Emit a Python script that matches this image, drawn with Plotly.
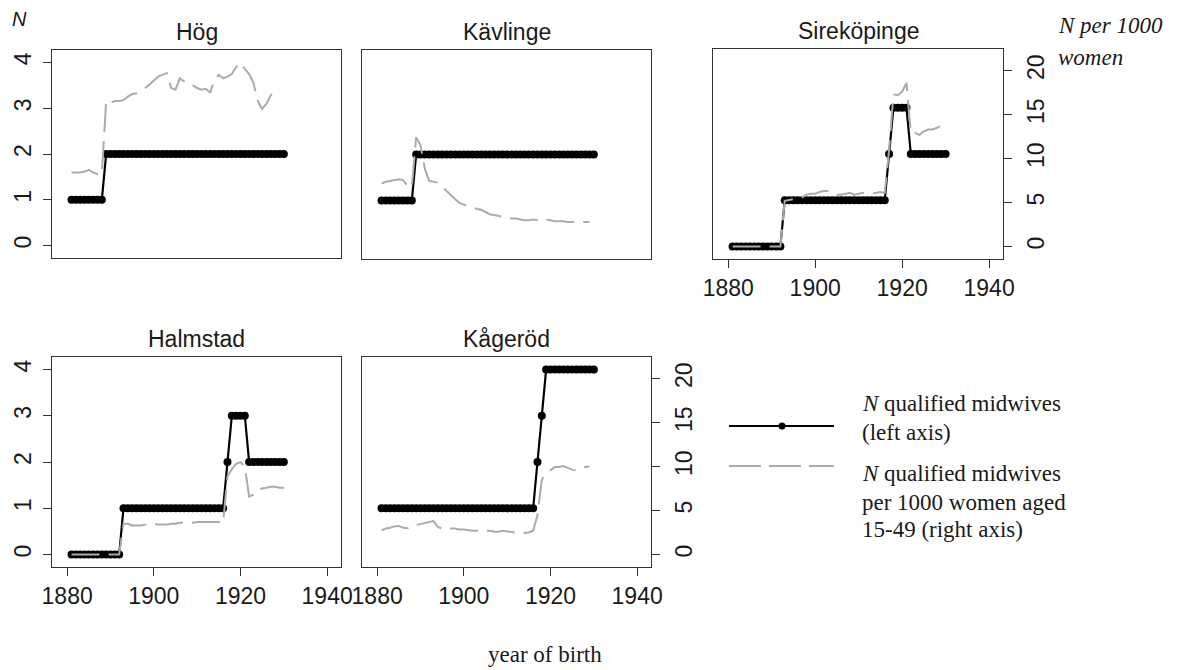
import plotly.graph_objects as go

# ---------------- data ----------------
years = list(range(1881, 1931))
towns = ["Hög", "Kävlinge", "Sireköpinge", "Halmstad", "Kågeröd"]

# N qualified midwives (left axis)
hog_n = [1, 1, 1, 1, 1, 1, 1, 1, 2, 2, 2, 2, 2, 2, 2, 2, 2, 2, 2, 2, 2, 2, 2, 2, 2,
         2, 2, 2, 2, 2, 2, 2, 2, 2, 2, 2, 2, 2, 2, 2, 2, 2, 2, 2, 2, 2, 2, 2, 2, 2]
kav_n = [1, 1, 1, 1, 1, 1, 1, 1, 2, 2, 2, 2, 2, 2, 2, 2, 2, 2, 2, 2, 2, 2, 2, 2, 2,
         2, 2, 2, 2, 2, 2, 2, 2, 2, 2, 2, 2, 2, 2, 2, 2, 2, 2, 2, 2, 2, 2, 2, 2, 2]
sire_n = [0, 0, 0, 0, 0, 0, 0, 0, 0, 0, 0, 0, 1, 1, 1, 1, 1, 1, 1, 1, 1, 1, 1, 1, 1,
          1, 1, 1, 1, 1, 1, 1, 1, 1, 1, 1, 2, 3, 3, 3, 3, 2, 2, 2, 2, 2, 2, 2, 2, 2]
halm_n = [0, 0, 0, 0, 0, 0, 0, 0, 0, 0, 0, 0, 1, 1, 1, 1, 1, 1, 1, 1, 1, 1, 1, 1, 1,
          1, 1, 1, 1, 1, 1, 1, 1, 1, 1, 1, 2, 3, 3, 3, 3, 2, 2, 2, 2, 2, 2, 2, 2, 2]
kag_n = [1, 1, 1, 1, 1, 1, 1, 1, 1, 1, 1, 1, 1, 1, 1, 1, 1, 1, 1, 1, 1, 1, 1, 1, 1,
         1, 1, 1, 1, 1, 1, 1, 1, 1, 1, 1, 2, 3, 4, 4, 4, 4, 4, 4, 4, 4, 4, 4, 4, 4]

# N qualified midwives per 1000 women aged 15-49 (right axis)
hog_rate = [8.4, 8.4, 8.4, 8.5, 8.7, 8.4, 8.2, 8.2, 16.6, 16.4, 16.6, 16.6, 16.7, 17.1,
            17.4, 17.5, 17.8, 18.1, 18.5, 19.0, 19.4, 19.6, 19.8, 18.1, 17.9, 19.2, 18.8,
            18.5, 18.4, 18.1, 17.9, 18.0, 17.6, 19.0, 19.6, 19.2, 19.4, 19.7, 20.5, 21.0,
            20.3, 19.7, 18.7, 16.6, 15.7, 16.3, 17.3, 17.5, 17.1, None]
kav_rate = [7.2, 7.4, 7.5, 7.6, 7.7, 7.6, 6.9, 6.8, 12.5, 11.6, 8.9, 7.5, 7.4, 7.3, 6.8,
            6.4, 5.9, 5.4, 5.0, 4.8, 4.6, 4.5, 4.3, 4.2, 3.9, 3.7, 3.6, 3.5, 3.4, 3.3,
            3.2, 3.2, 3.1, 3.0, 3.0, 3.1, 3.0, 3.1, 3.1, 3.0, 2.9, 2.9, 2.9, 2.8, 2.8,
            2.8, 2.8, 2.8, 2.8, None]
sire_rate = [0, 0, 0, 0, 0, 0, 0, 0, 0, 0, 0, 0, 5.2, 5.3, 5.4, 5.5, 5.6, 5.9, 6.0, 6.0,
             6.2, 6.3, 6.3, 6.1, 5.9, 5.9, 6.0, 6.1, 5.9, 6.0, 6.1, 6.0, 6.0, 6.1, 6.2,
             6.1, 11.0, 17.3, 17.2, 17.6, 18.6, 12.9, 12.9, 12.7, 13.1, 13.3, 13.3, 13.5,
             13.8, 14.0]
halm_rate = [0, 0, 0, 0, 0, 0, 0, 0, 0, 0, 0, 0, 3.5, 3.5, 3.3, 3.3, 3.3, 3.4, 3.5, 3.5,
             3.4, 3.4, 3.4, 3.5, 3.5, 3.6, 3.6, 3.6, 3.6, 3.7, 3.7, 3.7, 3.7, 3.7, 3.7,
             3.6, 8.9, 9.7, 10.3, 10.5, 10.0, 6.6, 6.8, 7.3, 7.5, 7.6, 7.7, 7.7, 7.6, 7.6]
kag_rate = [2.75, 2.95, 3.05, 3.2, 3.25, 3.05, 3.0, 3.25, 3.35, 3.45, 3.55, 3.65, 3.8,
            3.15, 2.95, 3.05, 2.95, 2.95, 2.85, 2.85, 2.75, 2.7, 2.7, 2.7, 2.7, 2.7, 2.6,
            2.6, 2.7, 2.6, 2.55, 2.5, 2.45, 2.45, 2.5, 2.7, 4.5, 8.5, 9.2, 9.55, 9.95,
            9.95, 10.05, 9.85, 9.65, 9.55, 9.75, 9.95, 10.0, None]

counts = [hog_n, kav_n, sire_n, halm_n, kag_n]
rates = [hog_rate, kav_rate, sire_rate, halm_rate, kag_rate]

left_ticks = [0, 1, 2, 3, 4]
right_ticks = [0, 5, 10, 15, 20]
x_ticks = [1880, 1900, 1920, 1940]

# ---------------- layout helpers ----------------
W, H = 1177, 670
def fx(px):
    return px / W
def fy(py):
    return 1 - py / H

# panel frames in pixels: left, right, top, bottom
panels = [(52, 341, 50, 258), (362, 651, 50, 259), (713, 1003, 49, 259),
          (52, 341, 357, 567), (362, 651, 357, 567)]
show_left = [True, False, False, True, False]
show_right = [False, False, True, False, True]
show_x = [False, False, True, True, True]

XR = [1876.5, 1943.2]
YL = [-0.27, 4.27]
YR = [-1.42, 22.46]

TICKFONT = dict(family="Liberation Sans, Arial, sans-serif", size=23, color="#1a1a1a")
FRAME = "#333333"
GRAY = "#ababab"

fig = go.Figure()
layout = {}
for i in range(5):
    n = i + 1
    xa = "x" if n == 1 else f"x{n}"
    ya = "y" if n == 1 else f"y{n}"
    yr = f"y{n + 5}"
    fig.add_trace(go.Scatter(
        x=years, y=counts[i], xaxis=xa, yaxis=ya, mode="lines+markers",
        line=dict(color="black", width=2.2),
        marker=dict(color="black", size=8, symbol="circle"),
        showlegend=False, hoverinfo="skip"))
    fig.add_trace(go.Scatter(
        x=years, y=rates[i], xaxis=xa, yaxis=yr, mode="lines",
        line=dict(color=GRAY, width=2, dash="28px,9px"),
        showlegend=False, hoverinfo="skip"))

    l, r, t, b = panels[i]
    xkey = "xaxis" if n == 1 else f"xaxis{n}"
    ykey = "yaxis" if n == 1 else f"yaxis{n}"
    rkey = f"yaxis{n + 5}"
    layout[xkey] = dict(
        domain=[fx(l), fx(r)], anchor=ya, range=XR, showgrid=False, zeroline=False,
        automargin=False,
        showline=True, mirror=True, linecolor=FRAME, linewidth=1,
        tickvals=x_ticks if show_x[i] else [],
        ticks="outside" if show_x[i] else "", ticklen=8, tickcolor=FRAME,
        showticklabels=show_x[i], tickfont=TICKFONT, ticklabelstandoff=0)
    layout[ykey] = dict(
        domain=[fy(b), fy(t)], anchor=xa, range=YL, showgrid=False, zeroline=False,
        automargin=False,
        showline=True, mirror=True, linecolor=FRAME, linewidth=1,
        tickvals=left_ticks if show_left[i] else [],
        ticks="outside" if show_left[i] else "", ticklen=8, tickcolor=FRAME,
        showticklabels=show_left[i], tickfont=TICKFONT, tickangle=-90,
        ticklabelstandoff=3)
    layout[rkey] = dict(
        overlaying=ya, anchor=xa, side="right", range=YR, showgrid=False,
        zeroline=False, showline=False, automargin=False,
        tickvals=right_ticks if show_right[i] else [],
        ticks="outside" if show_right[i] else "", ticklen=8, tickcolor=FRAME,
        showticklabels=show_right[i], tickfont=TICKFONT, tickangle=-90,
        ticklabelstandoff=4)

annotations = []
SANS = "Liberation Sans, Arial, sans-serif"
SERIF = "Liberation Serif, Times New Roman, serif"
for i in range(5):
    l, r, t, b = panels[i]
    annotations.append(dict(
        text=towns[i], x=fx((l + r) / 2), y=fy(t - 18), xref="paper", yref="paper",
        xanchor="center", yanchor="middle", showarrow=False,
        font=dict(family=SANS, size=23, color="#1a1a1a")))

annotations.append(dict(text="<i>N</i>", x=fx(19), y=fy(19), xref="paper", yref="paper",
                        xanchor="center", yanchor="middle", showarrow=False,
                        font=dict(family=SANS, size=20, color="#1a1a1a")))
annotations.append(dict(text="<i>N per 1000</i>", x=fx(1056), y=fy(26), xref="paper",
                        yref="paper", xanchor="left", yanchor="middle", showarrow=False,
                        font=dict(family=SERIF, size=23, color="#1a1a1a")))
annotations.append(dict(text="<i>women</i>", x=fx(1056), y=fy(57), xref="paper",
                        yref="paper", xanchor="left", yanchor="middle", showarrow=False,
                        font=dict(family=SERIF, size=23, color="#1a1a1a")))
annotations.append(dict(text="year of birth", x=fx(545), y=fy(654), xref="paper",
                        yref="paper", xanchor="center", yanchor="middle", showarrow=False,
                        font=dict(family=SERIF, size=23, color="#1a1a1a")))

legend_lines = [("<i>N</i> qualified midwives", 403), ("(left axis)", 432),
                ("<i>N</i> qualified midwives", 473), ("per 1000 women aged", 502),
                ("15-49 (right axis)", 529)]
for txt, yy in legend_lines:
    annotations.append(dict(text=txt, x=fx(860), y=fy(yy), xref="paper", yref="paper",
                            xanchor="left", yanchor="middle", showarrow=False,
                            font=dict(family=SERIF, size=23, color="#1a1a1a")))

shapes = [
    dict(type="line", xref="paper", yref="paper", x0=fx(729), x1=fx(834),
         y0=fy(426), y1=fy(426), line=dict(color="black", width=2)),
    dict(type="circle", xref="paper", yref="paper", x0=fx(778.5), x1=fx(785.5),
         y0=fy(429.5), y1=fy(422.5), fillcolor="black", line=dict(color="black", width=0)),
    dict(type="line", xref="paper", yref="paper", x0=fx(729), x1=fx(834),
         y0=fy(466), y1=fy(466), line=dict(color=GRAY, width=2, dash="32px,8px")),
]

fig.update_layout(
    template="none",
    width=W, height=H, margin=dict(l=0, r=0, t=0, b=0, autoexpand=False),
    paper_bgcolor="white", plot_bgcolor="white",
    annotations=annotations, shapes=shapes, showlegend=False, **layout)

fig.write_html("out.html", config={"displayModeBar": False},
               post_script="document.body.style.margin='0px';document.body.style.overflow='hidden';")
